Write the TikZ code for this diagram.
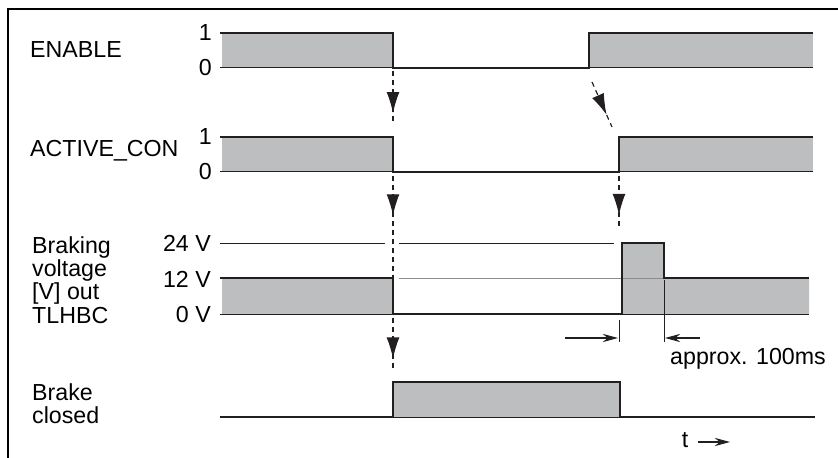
\documentclass[tikz,border=0pt]{standalone}
\usepackage{fontspec}
\setmainfont{Liberation Sans}
\usepackage{tikz}
\usetikzlibrary{arrows.meta,decorations.markings}
\definecolor{sigfill}{HTML}{BCBEC0}
\definecolor{sigline}{HTML}{231F20}
\definecolor{levelgray}{HTML}{8A8C8E}

\begin{document}
\begin{tikzpicture}[x=0.03cm,y=-0.03cm,
  font=\fontsize{19.8}{20}\selectfont,
  sig/.style={line width=2.3pt,sigline,line join=miter},
  lvl/.style={line width=0.85pt,sigline},
  trig/.style={line width=1pt,sigline,dash pattern=on 4.3pt off 3.4pt,
    postaction={decorate},
    decoration={markings,mark=at position #1 with {\arrow{Latex[length=18pt,width=11pt]}}}},
  dim/.style={line width=0.9pt,sigline,-{Stealth[length=13pt,width=7pt]}},
  lab/.style={inner sep=0pt}]
\useasboundingbox (0,0) rectangle (838,458);
\draw[line width=1pt,black] (8,458) -- (8,9) -- (838,9);

\node[lab,anchor=base west] (lblEnable) at (30,58) {ENABLE};
\node[lab,anchor=base west] (lblActive) at (30,157) {ACTIVE\_CON};
\node[lab,anchor=north west,align=left] (lblBraking) at (32,236)
  {Braking\\voltage\\{[V]} out\\TLHBC};
\node[lab,anchor=north west,align=left] (lblBrake) at (32,383) {Brake\\closed};

\node[lab,anchor=east] (enHi) at (212,33) {1};
\node[lab,anchor=east] (enLo) at (212,68) {0};
\node[lab,anchor=east] (acHi) at (212,137) {1};
\node[lab,anchor=east] (acLo) at (212,172) {0};
\node[lab,anchor=east] (bv24) at (211,243) {24 V};
\node[lab,anchor=east] (bv12) at (211,279) {12 V};
\node[lab,anchor=east] (bv0) at (211,315) {0 V};

\fill[sigfill] (222,33) rectangle (393,68);
\fill[sigfill] (589,33) rectangle (813,68);
\fill[sigfill] (222,137) rectangle (393,172);
\fill[sigfill] (619,137) rectangle (813,172);
\fill[sigfill] (222,278) rectangle (393,314);
\fill[sigfill] (622,243) -- (664,243) -- (664,278) -- (809,278) -- (809,314) -- (622,314) -- cycle;
\fill[sigfill] (393,382) rectangle (620,417);

\draw[lvl] (220,68) -- (813,68);
\draw[lvl] (220,172) -- (813,172);
\draw[lvl] (220,243) -- (385,243);
\draw[lvl] (399,243) -- (614,243);
\draw[lvl,levelgray] (399,278) -- (664,278);
\draw[lvl] (220,314) -- (809,314);
\draw[lvl] (393,417) -- (620,417);

\draw[sig] (220,33) -- (393,33) -- (393,68) -- (589,68) -- (589,33) -- (813,33);
\draw[sig] (220,137) -- (393,137) -- (393,172) -- (619,172) -- (619,137) -- (813,137);
\draw[sig] (220,278) -- (393,278) -- (393,314) -- (622,314) -- (622,243)
  -- (664,243) -- (664,278) -- (809,278);
\draw[sig] (220,417) -- (393,417) -- (393,382) -- (620,382) -- (620,417) -- (815,417);

\coordinate (trEnA) at (393,71);
\coordinate (trEnB) at (393,125);
\coordinate (trOnA) at (592,82);
\coordinate (trOnB) at (612,127);
\coordinate (trAcA) at (393,176);
\coordinate (trAcB) at (393,277);
\coordinate (trAcC) at (619,176);
\coordinate (trAcD) at (619,226);
\coordinate (trBvA) at (393,318);
\coordinate (trBvB) at (393,370);
\draw[trig=0.78] (trEnA) -- (trEnB);
\draw[trig=0.73] (trOnA) -- (trOnB);
\draw[trig=0.39] (trAcA) -- (trAcB);
\draw[trig=0.78] (trAcC) -- (trAcD);
\draw[trig=0.78] (trBvA) -- (trBvB);

\draw[lvl] (619,320) -- (619,342);
\draw[lvl] (664,280) -- (664,342);
\coordinate (dimL) at (565,338);
\coordinate (dimLt) at (618,338);
\coordinate (dimR) at (700,338);
\coordinate (dimRt) at (665,338);
\draw[dim] (dimL) -- (dimLt);
\draw[dim] (dimR) -- (dimRt);
\node[lab,anchor=base west] (lblApprox) at (670,365) {approx. 100ms};

\node[inner ysep=0pt,inner xsep=8.5pt,anchor=base] (tlab) at (685,447) {t};
\coordinate (tEnd) at (730,442);
\draw[dim] (tlab.east |- tEnd) -- (tEnd);
\end{tikzpicture}
\end{document}
